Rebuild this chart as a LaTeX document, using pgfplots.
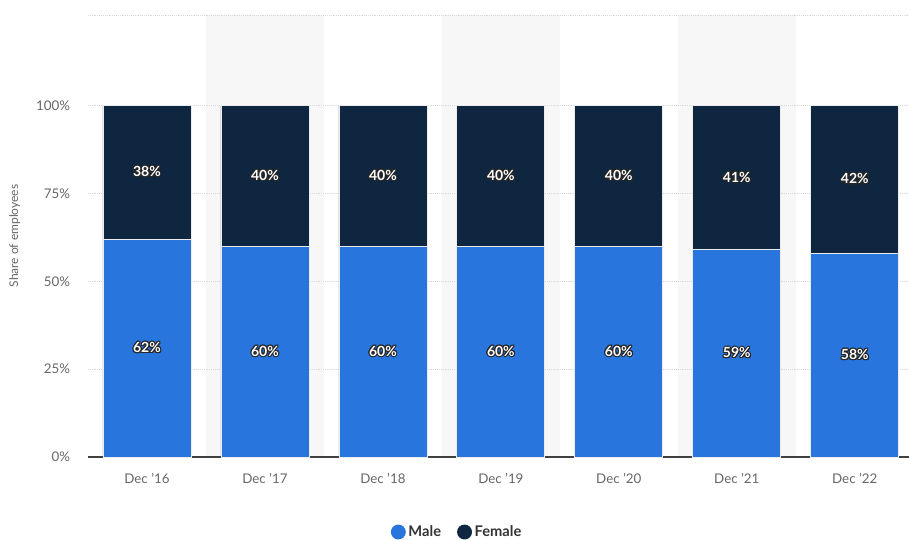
\documentclass[border=0pt]{standalone}
\usepackage{pgfplots}
\pgfplotsset{compat=1.18}
\usepackage{fontspec}
\setmainfont{Lato}
\usepackage{contour}
\contourlength{0.8pt}
\definecolor{male}{HTML}{2876DD}
\definecolor{female}{HTML}{0F2640}
\definecolor{band}{HTML}{F7F7F7}
\definecolor{ticktxt}{HTML}{666666}
\definecolor{legtxt}{HTML}{333333}

\begin{document}
\begin{tikzpicture}
\path[use as bounding box] (0,0) rectangle (681.75pt,404.25pt);
\pgfplotsset{
  base/.style={
    at={(66pt,61.5pt)}, anchor=south west,
    scale only axis, width=615.75pt, height=331.5pt,
    xmin=-0.5, xmax=6.46, ymin=0, ymax=125.8,
  }
}
% background bands and grid
\begin{axis}[base, axis on top,
  axis line style={draw=none},
  major tick length=0pt,
  xtick=\empty,
  ytick={25,50,75,100,125.8}, yticklabels={},
  ymajorgrids, grid style={densely dotted, line width=0.6pt, black!15},
]
\addplot[ybar, bar width=1, bar shift=0pt, fill=band, draw=none]
  coordinates {(1,125.8) (3,125.8) (5,125.8)};
\end{axis}
% bars
\begin{axis}[base,
  /pgf/number format/assume math mode=true,
  ybar stacked, bar width=0.746,
  axis x line*=bottom, axis y line*=left,
  y axis line style={draw=none},
  x axis line style={draw=black!75, line width=0.9pt},
  major tick length=0pt,
  xtick={0,...,6},
  xticklabels={Dec '16,Dec '17,Dec '18,Dec '19,Dec '20,Dec '21,Dec '22},
  ytick={0,25,50,75,100},
  yticklabels={0\%,25\%,50\%,75\%,100\%},
  tick label style={font=\fontsize{10}{12}\selectfont, text=ticktxt},
  xticklabel style={yshift=-9pt},
  yticklabel style={xshift=-10pt},
  ylabel={Share of employees},
  ylabel style={at={(axis description cs:-0.0893,0.5)}, anchor=center,
    font=\fontsize{9}{11}\selectfont, text=ticktxt},
  visualization depends on={rawy \as \rawy},
  nodes near coords={\contour{black!85}{\pgfmathprintnumber[fixed,precision=0]{\rawy}\%}},
  every node near coord/.append style={anchor=center,
    font=\bfseries\fontsize{10.5}{12}\selectfont, text=white},
  legend style={at={(axis description cs:0.45,-0.1697)}, anchor=center,
    draw=none, fill=none, legend columns=2,
    font=\bfseries\fontsize{11}{13}\selectfont, text=legtxt,
    /tikz/every even column/.append style={column sep=10pt}},
  legend image code/.code={\path[#1, draw=none] (0.2em,0) circle (5.6pt);},
]
\addplot[fill=male, draw=white!85!gray, line width=0.6pt]
  coordinates {(0,62) (1,60) (2,60) (3,60) (4,60) (5,59) (6,58)};
\addplot[fill=female, draw=white!85!gray, line width=0.6pt]
  coordinates {(0,38) (1,40) (2,40) (3,40) (4,40) (5,41) (6,42)};
\legend{Male,Female}
\end{axis}
\end{tikzpicture}
\end{document}
